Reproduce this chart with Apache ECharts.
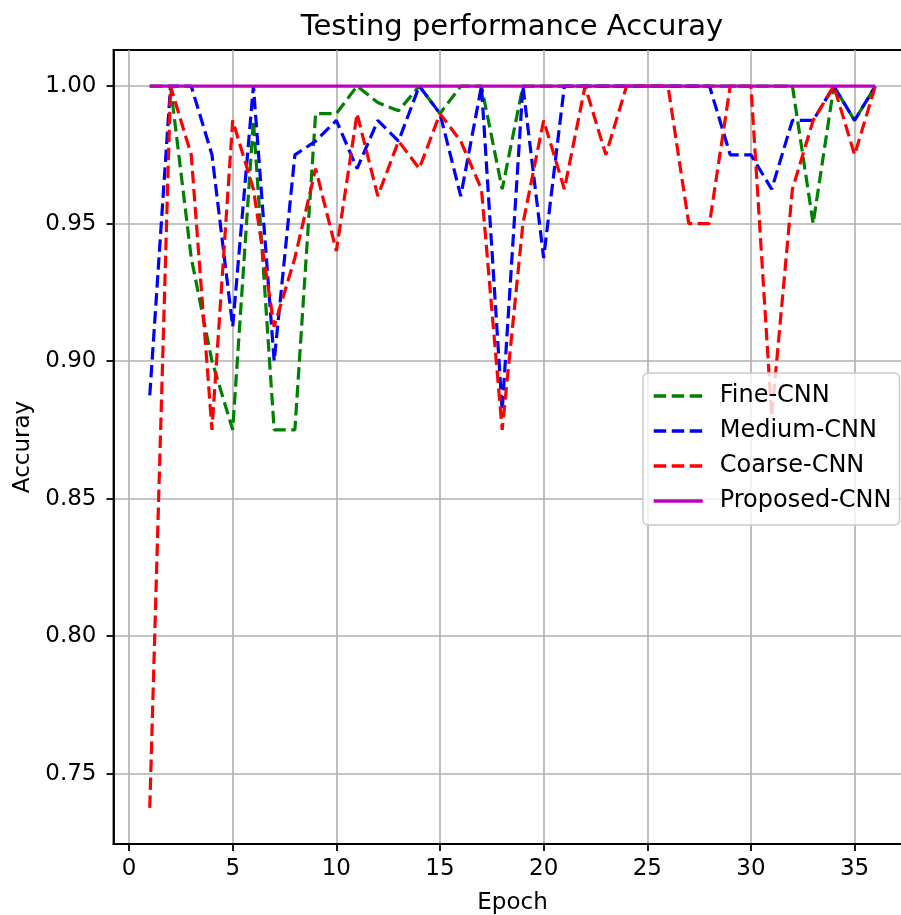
<!DOCTYPE html>
<html>
<head>
<meta charset="utf-8">
<script src="https://cdn.jsdelivr.net/npm/echarts@6/dist/echarts.min.js"></script>
<style>
html,body{margin:0;padding:0;background:#fff;}
#chart{width:901px;height:915px;}
</style>
</head>
<body>
<div id="chart"></div>
<script>
const epochs = [1,2,3,4,5,6,7,8,9,10,11,12,13,14,15,16,17,18,19,20,21,22,23,24,25,26,27,28,29,30,31,32,33,34,35,36];
const fineCNN = [1.0,1.0,0.9375,0.9,0.875,0.9875,0.875,0.875,0.99,0.99,1.0,0.994,0.991,1.0,0.99,1.0,1.0,0.9625,1.0,1.0,1.0,1.0,1.0,1.0,1.0,1.0,1.0,1.0,1.0,1.0,1.0,1.0,0.95,1.0,0.9875,1.0];
const mediumCNN = [0.8875,1.0,1.0,0.975,0.9125,1.0,0.9,0.975,0.98,0.9875,0.97,0.9875,0.98,1.0,0.99,0.96,1.0,0.882,1.0,0.9375,1.0,1.0,1.0,1.0,1.0,1.0,1.0,1.0,0.975,0.975,0.9625,0.9875,0.9875,1.0,0.9875,1.0];
const coarseCNN = [0.7375,1.0,0.975,0.875,0.9875,0.9625,0.9125,0.9375,0.97,0.94,0.99,0.96,0.98,0.97,0.99,0.98,0.9625,0.875,0.95,0.9875,0.9625,1.0,0.975,1.0,1.0,1.0,0.95,0.95,1.0,1.0,0.88,0.9625,0.9875,1.0,0.975,1.0];
const proposedCNN = [1.0,1.0,1.0,1.0,1.0,1.0,1.0,1.0,1.0,1.0,1.0,1.0,1.0,1.0,1.0,1.0,1.0,1.0,1.0,1.0,1.0,1.0,1.0,1.0,1.0,1.0,1.0,1.0,1.0,1.0,1.0,1.0,1.0,1.0,1.0,1.0];
const xTicks = [0,5,10,15,20,25,30,35];
const yTicks = [0.75,0.80,0.85,0.90,0.95,1.00];
const seriesNames = ['Fine-CNN','Medium-CNN','Coarse-CNN','Proposed-CNN'];
const seriesColors = ['#008000','#0000ff','#ff0000','#bf00bf'];

const FONT = 'DejaVu Sans';
const pairs = vals => epochs.map((e,i)=>[e, vals[i]]);

const chart = echarts.init(document.getElementById('chart'), null, {renderer:'canvas'});
const dashed = [12.5, 5.5];
const mkSeries = (name, vals, color, type) => ({
  name, type:'line', data: pairs(vals), symbol:'none', showSymbol:false,
  lineStyle:{color, width:3.2, type, cap:'butt'}, itemStyle:{color},
  emphasis:{disabled:true}, animation:false
});

chart.setOption({
  animation:false,
  backgroundColor:'#fff',
  textStyle:{fontFamily:FONT, color:'#000'},
  title:{
    text:'Testing performance Accuray',
    left:512, top:13, padding:0, textAlign:'center',
    textStyle:{fontFamily:FONT, fontSize:29, fontWeight:'normal', color:'#000'}
  },
  grid:{
    left:113.5, top:50, right:-10.6, bottom:71,
    containLabel:false, outerBoundsMode:'none',
    show:true, borderColor:'#000', borderWidth:1.8, backgroundColor:'transparent'
  },
  legend:{
    orient:'vertical', left:643, top:373,
    padding:[11,8,12,9],
    itemWidth:49, itemHeight:14, itemGap:11, itemTextGap:17,
    backgroundColor:'rgba(255,255,255,0.8)', borderColor:'#cccccc', borderWidth:1.5, borderRadius:5,
    textStyle:{fontFamily:FONT, fontSize:24, color:'#000', lineHeight:24, padding:[0,0,0,12]},
    itemStyle:{opacity:0},
    data: seriesNames.map((n,i)=>({
      name:n,
      itemStyle:{opacity:0},
      lineStyle:{color:seriesColors[i], width:3.4, type: i===3 ? 'solid' : dashed, cap:'butt'}
    }))
  },
  xAxis:{
    type:'value', min:-0.75, max:37.75,
    name:'Epoch', nameLocation:'middle', nameGap:48,
    nameTextStyle:{fontFamily:FONT, fontSize:23, color:'#000'},
    axisLine:{show:true, onZero:false, lineStyle:{color:'#000', width:1.8}},
    axisTick:{show:true, length:7, inside:false, lineStyle:{color:'#000', width:1.8}, customValues:xTicks},
    axisLabel:{show:true, margin:14, fontFamily:FONT, fontSize:23, color:'#000', customValues:xTicks, formatter: v => String(v), showMinLabel:true, showMaxLabel:true},
    splitLine:{show:true, lineStyle:{color:'#b0b0b0', width:1.6}}
  },
  yAxis:{
    type:'value', min:0.724375, max:1.013125,
    name:'Accuray', nameLocation:'middle', nameGap:78,
    nameTextStyle:{fontFamily:FONT, fontSize:23, color:'#000'},
    axisLine:{show:true, onZero:false, lineStyle:{color:'#000', width:1.8}},
    axisTick:{show:true, length:7, inside:false, lineStyle:{color:'#000', width:1.8}, customValues:yTicks},
    axisLabel:{show:true, margin:17, fontFamily:FONT, fontSize:23, color:'#000', customValues:yTicks, formatter: v => v.toFixed(2)},
    splitLine:{show:true, lineStyle:{color:'#b0b0b0', width:1.6}}
  },
  series:[
    mkSeries(seriesNames[0], fineCNN, seriesColors[0], dashed),
    mkSeries(seriesNames[1], mediumCNN, seriesColors[1], dashed),
    mkSeries(seriesNames[2], coarseCNN, seriesColors[2], dashed),
    mkSeries(seriesNames[3], proposedCNN, seriesColors[3], 'solid')
  ]
});
</script>
</body>
</html>
